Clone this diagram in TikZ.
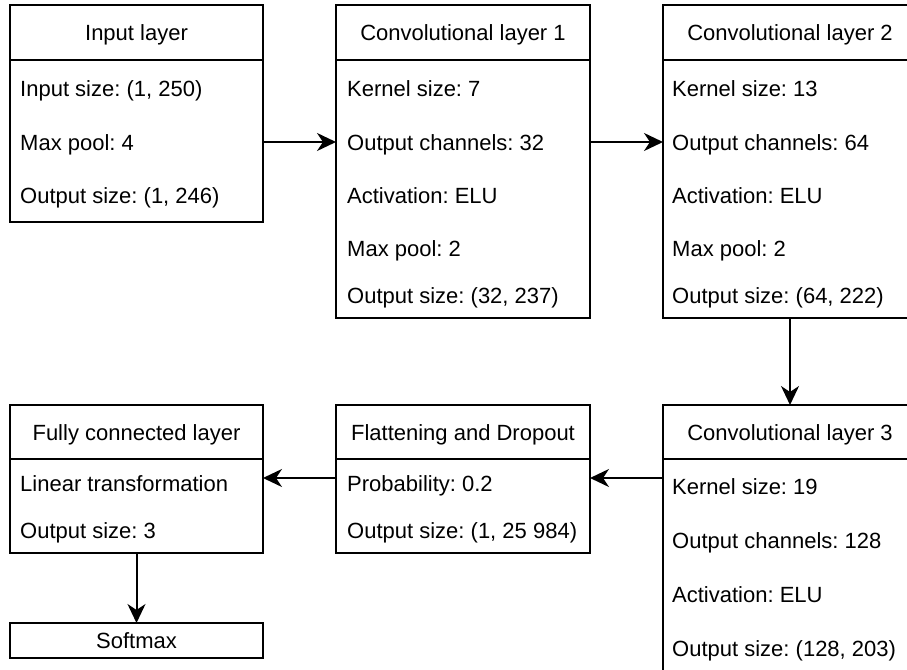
\documentclass[tikz,border=0pt]{standalone}
\usepackage{fontspec}
\setmainfont{Liberation Sans}
\usetikzlibrary{positioning,arrows.meta}
\frenchspacing

\tikzset{
  box/.style={draw, line width=2pt, outer sep=0pt, inner sep=0pt},
  head/.style={box, anchor=north west, minimum height=55pt,
    text height=21pt, text depth=5pt},
  body/.style={box},
  row/.style={anchor=west, inner sep=0pt, text height=21pt, text depth=5pt},
  flow/.style={line width=2pt, -{Stealth[length=19pt,width=18pt,inset=6pt]}},
}

\begin{document}
\begin{tikzpicture}[x=1pt, y=-1pt, font=\fontsize{22}{26}\selectfont]

  \useasboundingbox (0,0) rectangle (907,669);
  \clip (0,0) rectangle (907,669);

  % Input layer
  \node[head, minimum width=253pt] (in-head) at (10,5) {Input layer};
  \node[body, minimum width=253pt, minimum height=162pt, below=0pt of in-head] (in-body) {};
  \node[row] (in-r1) at (20,88)  {Input size: (1, 250)};
  \node[row] (in-r2) at (20,142) {Max pool: 4};
  \node[row] (in-r3) at (20,195) {Output size: (1, 246)};

  % Convolutional layer 1
  \node[head, minimum width=254pt] (c1-head) at (336,5) {Convolutional layer 1};
  \node[body, minimum width=254pt, minimum height=258pt, below=0pt of c1-head] (c1-body) {};
  \node[row] (c1-r1) at (347,88)  {Kernel size: 7};
  \node[row] (c1-r2) at (347,142) {Output channels: 32};
  \node[row] (c1-r3) at (347,195) {Activation: ELU};
  \node[row] (c1-r4) at (347,248) {Max pool: 2};
  \node[row] (c1-r5) at (347,295) {Output size: (32, 237)};

  % Convolutional layer 2
  \node[head, minimum width=254pt] (c2-head) at (663,5) {Convolutional layer 2};
  \node[body, minimum width=254pt, minimum height=258pt, below=0pt of c2-head] (c2-body) {};
  \node[row] (c2-r1) at (672,88)  {Kernel size: 13};
  \node[row] (c2-r2) at (672,142) {Output channels: 64};
  \node[row] (c2-r3) at (672,195) {Activation: ELU};
  \node[row] (c2-r4) at (672,248) {Max pool: 2};
  \node[row] (c2-r5) at (672,295) {Output size: (64, 222)};

  % Convolutional layer 3
  \node[head, minimum width=254pt, minimum height=54pt] (c3-head) at (663,405) {Convolutional layer 3};
  \node[body, minimum width=254pt, minimum height=213pt, below=0pt of c3-head] (c3-body) {};
  \node[row] (c3-r1) at (672,486) {Kernel size: 19};
  \node[row] (c3-r2) at (672,540) {Output channels: 128};
  \node[row] (c3-r3) at (672,594) {Activation: ELU};
  \node[row] (c3-r4) at (672,648) {Output size: (128, 203)};

  % Flattening and dropout
  \node[head, minimum width=254pt, minimum height=54pt] (fl-head) at (336,405) {Flattening and Dropout};
  \node[body, minimum width=254pt, minimum height=94pt, below=0pt of fl-head] (fl-body) {};
  \node[row] (fl-r1) at (347,483) {Probability: 0.2};
  \node[row] (fl-r2) at (347,530) {Output size: (1, 25~984)};

  % Fully connected layer
  \node[head, minimum width=253pt, minimum height=54pt] (fc-head) at (10,405) {Fully connected layer};
  \node[body, minimum width=253pt, minimum height=94pt, below=0pt of fc-head] (fc-body) {};
  \node[row] (fc-r1) at (20,483) {Linear transformation};
  \node[row] (fc-r2) at (20,530) {Output size: 3};

  % Softmax
  \node[head, minimum width=253pt, minimum height=35pt] (soft) at (10,623) {Softmax};

  % Connect the layers
  \draw[flow] (in-body.east |- in-r2) -- (c1-body.west |- in-r2);
  \draw[flow] (c1-body.east |- c1-r2) -- (c2-body.west |- c1-r2);
  \draw[flow] (c2-body.south) -- (c3-head.north);
  \draw[flow] (c3-body.west |- 0,478) -- (fl-body.east |- 0,478);
  \draw[flow] (fl-body.west |- 0,478) -- (fc-body.east |- 0,478);
  \draw[flow] (fc-body.south) -- (soft.north);

\end{tikzpicture}
\end{document}
